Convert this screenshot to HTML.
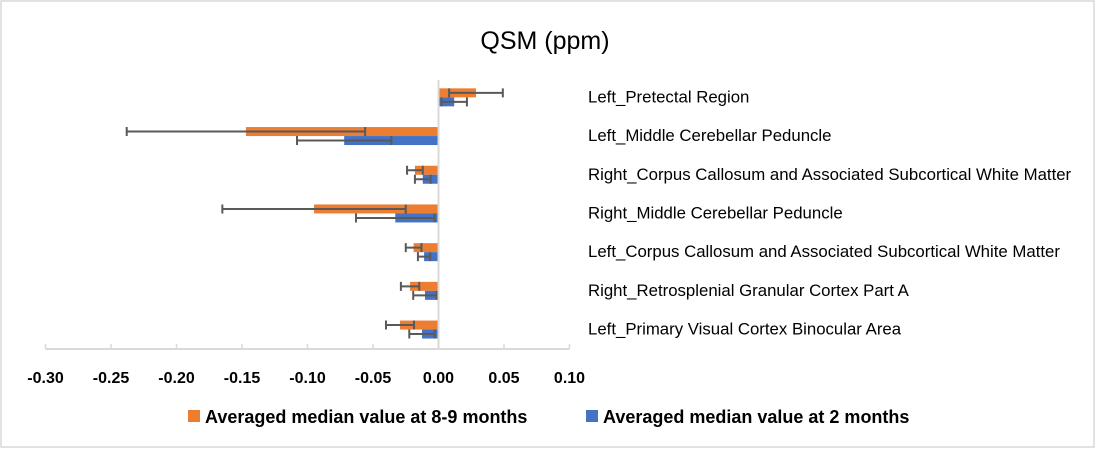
<!DOCTYPE html>
<html><head><meta charset="utf-8"><style>
body{margin:0;background:#fff;}
svg{display:block;font-family:"Liberation Sans",sans-serif;}
</style></head><body>
<svg id="chart" width="1095" height="449">
<rect x="1" y="1" width="1093" height="446" fill="#fff" stroke="#d9d9d9" stroke-width="1.5"/>
<text x="545" y="49" font-size="25" text-anchor="middle" fill="#000">QSM (ppm)</text>
<g id="plot"></g>
<g>
<rect x="188" y="410" width="12" height="12" fill="#ED7D31"/>
<text x="205" y="423" font-size="18" font-weight="bold">Averaged median value at 8-9 months</text>
<rect x="586" y="410" width="12" height="12" fill="#4472C4"/>
<text x="603" y="423" font-size="18" font-weight="bold">Averaged median value at 2 months</text>
</g>
</svg>
<script>
const categories=["Left_Pretectal Region","Left_Middle Cerebellar Peduncle","Right_Corpus Callosum and Associated Subcortical White Matter","Right_Middle Cerebellar Peduncle","Left_Corpus Callosum and Associated Subcortical White Matter","Right_Retrosplenial Granular Cortex Part A","Left_Primary Visual Cortex Binocular Area"];
const late=[0.0286,-0.147,-0.018,-0.095,-0.019,-0.0217,-0.0294];
const lateErr=[0.0205,0.091,0.006,0.070,0.006,0.007,0.0107];
const early=[0.012,-0.072,-0.012,-0.033,-0.011,-0.0103,-0.0126];
const earlyErr=[0.0097,0.036,0.006,0.030,0.0047,0.009,0.0097];
const ticks=[-0.30,-0.25,-0.20,-0.15,-0.10,-0.05,0.00,0.05,0.10];
(function(){
const NS="http://www.w3.org/2000/svg";
const g=document.getElementById('plot');
const x0=438.5,k=1310,plotTop=78,band=38.7,axisY=349;
const X=v=>x0+v*k;
function mk(t,a){const e=document.createElementNS(NS,t);for(const n in a)e.setAttribute(n,a[n]);g.appendChild(e);return e;}
let ax=mk('line',{x1:X(-0.30),x2:X(0.10),y1:axisY,y2:axisY,stroke:'#d9d9d9','stroke-width':2});


ticks.forEach((t)=>{
 let tl=mk('line',{x1:X(t),x2:X(t),y1:axisY-5,y2:axisY,stroke:'#d9d9d9','stroke-width':1.5});
 
 
 let tx=mk('text',{x:X(t),y:383,'font-size':16,'font-weight':'bold','text-anchor':'middle'});
 tx.textContent=t.toFixed(2);
 
 
});
function bar(v,e,y,h,col,name){
 let r=mk('rect',{x:Math.min(X(0),X(v)),y:y,width:Math.abs(X(v)-X(0)),height:h,fill:col});
 
 
 const cy=y+h/2,a=X(v-e),b=X(v+e);
 let l=mk('path',{d:`M${a},${cy}H${b}M${a},${cy-4.5}V${cy+4.5}M${b},${cy-4.5}V${cy+4.5}`,stroke:'#595959','stroke-width':2,fill:'none'});
 
 
}
categories.forEach((c,i)=>{
 const cy=plotTop+band*i+band/2;
 bar(late[i],lateErr[i],cy-9,9,'#ED7D31','bar-8-9-months');
 bar(early[i],earlyErr[i],cy,9,'#4472C4','bar-2-months');
 let t=mk('text',{x:588,y:cy+5,'font-size':16.8,fill:'#000'});
 t.textContent=c;
 
 
});
let z=mk('line',{x1:X(0),x2:X(0),y1:plotTop+2,y2:axisY,stroke:'#d9d9d9','stroke-width':2});


})();
</script>
</body></html>
